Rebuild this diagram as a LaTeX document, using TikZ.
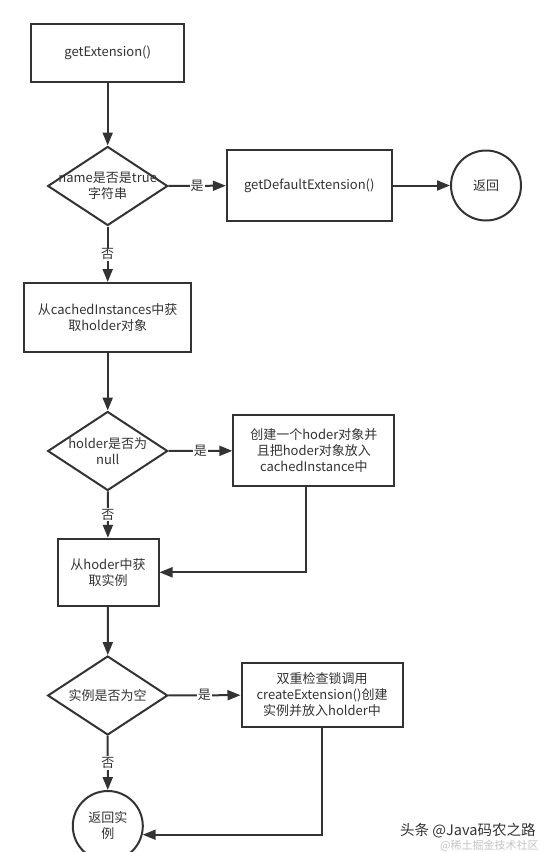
\documentclass[tikz,border=0pt]{standalone}
\usepackage{fontspec}
\setmainfont{Noto Sans CJK SC}
\usetikzlibrary{shapes.geometric,arrows.meta}
\definecolor{ln}{HTML}{333333}
\definecolor{wmg}{HTML}{C4C4C4}
\begin{document}
\begin{tikzpicture}[x=1pt,y=-1pt,
  txt/.style={font=\fontsize{13}{16}\selectfont,text=ln,align=center},
  box/.style={txt,draw=ln,line width=2pt,rectangle,inner sep=2pt},
  dia/.style={draw=ln,line width=2pt,diamond,inner sep=0pt,minimum width=120pt,minimum height=79pt},
  circ/.style={txt,draw=ln,line width=2pt,circle,minimum size=70pt,inner sep=0pt},
  arr/.style={draw=ln,line width=2pt,-{Triangle[length=13pt,width=10pt]}},
  lbl/.style={txt,fill=white,inner sep=1pt}]
\useasboundingbox (0,0) rectangle (546,852);
\clip (0,0) rectangle (546,852);
\fill[white] (0,0) rectangle (546,852);

\node[box,minimum width=153pt,minimum height=58pt] (n1) at (107.7,53) {getExtension()};
\node[dia,label={[txt]center:{name是否是true\\字符串}}] (d1) at (107.7,186) {};
\node[box,minimum width=165pt,minimum height=71pt] (b2) at (309.3,185.5) {getDefaultExtension()};
\node[circ] (c1) at (486,185.5) {返回};
\node[box,minimum width=167pt,minimum height=69pt] (b3) at (107.7,317.5) {从cachedInstances中获\\取holder对象};
\node[dia,label={[txt]center:{holder是否为\\null}}] (d2) at (107.7,451) {};
\node[box,minimum width=161pt,minimum height=71pt] (b4) at (313.8,450.7) {创建一个hoder对象并\\且把hoder对象放入\\cachedInstance中};
\node[box,minimum width=101pt,minimum height=67pt] (b5) at (108,572.3) {从hoder中获\\取实例};
\node[dia,label={[txt]center:{实例是否为空}}] (d3) at (107.7,695.5) {};
\node[box,minimum width=161pt,minimum height=64pt] (b6) at (322,695) {双重检查锁调用\\createExtension()创建\\实例并放入holder中};
\node[circ] (c2) at (107.8,826) {返回实\\例};

\draw[arr] (n1) -- (d1);
\draw[arr] (d1) -- node[lbl]{是} (b2);
\draw[arr] (b2) -- (c1);
\draw[arr] (d1) -- node[lbl]{否} (b3);
\draw[arr] (b3) -- (d2);
\draw[arr] (d2) -- node[lbl]{是} (b4);
\draw[arr] (d2) -- node[lbl]{否} (b5);
\draw[arr] ([xshift=-7.8pt]b4.south) |- (b5.east);
\draw[arr] (b5) -- (d3);
\draw[arr] (d3) -- node[lbl]{是} (b6);
\draw[arr] (d3) -- node[lbl]{否} (c2);
\draw[arr] (b6.south) |- (c2.-14.4);

\node[anchor=west,inner sep=0pt,font=\fontsize{11}{12}\selectfont,text=wmg] (wm2) at (440,845.5) {@稀土掘金技术社区};
\node[anchor=west,inner sep=0pt,font=\fontsize{14.5}{15}\selectfont,text=ln] (wm1) at (400,831) {头条 @Java码农之路};
\end{tikzpicture}
\end{document}
